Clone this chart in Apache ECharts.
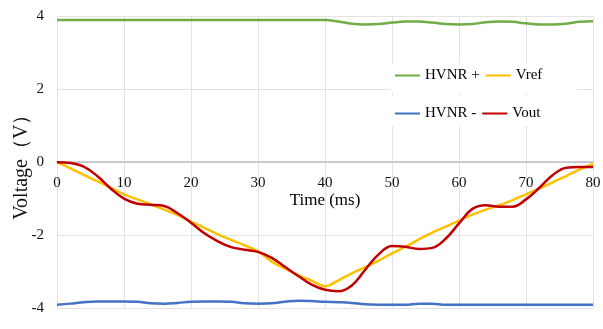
<!DOCTYPE html>
<html>
<head>
<meta charset="utf-8">
<script src="https://cdn.jsdelivr.net/npm/echarts@6/dist/echarts.min.js"></script>
<style>html,body{margin:0;padding:0;background:#fff}#c{width:603px;height:329px}</style>
</head>
<body>
<div id="c"></div>
<script>
var time = [0,2,4,6,8,10,12,14,16,18,20,22,24,26,28,30,32,34,36,38,40,42,44,46,48,50,52,54,56,58,60,62,64,66,68,70,72,74,76,78,80];
var hvnrPlus = [3.9,3.9,3.9,3.9,3.9,3.9,3.9,3.9,3.9,3.9,3.9,3.9,3.9,3.9,3.9,3.9,3.9,3.9,3.9,3.9,3.9,3.86,3.8,3.78,3.79,3.83,3.86,3.86,3.83,3.79,3.78,3.79,3.84,3.86,3.85,3.81,3.78,3.78,3.8,3.85,3.87];
var hvnrMinus = [-3.91,-3.88,-3.84,-3.82,-3.82,-3.82,-3.83,-3.87,-3.88,-3.86,-3.83,-3.82,-3.82,-3.83,-3.87,-3.88,-3.87,-3.83,-3.8,-3.81,-3.83,-3.84,-3.86,-3.9,-3.91,-3.91,-3.91,-3.88,-3.88,-3.91,-3.91,-3.91,-3.91,-3.91,-3.91,-3.91,-3.91,-3.91,-3.91,-3.91,-3.91];
var vref = [0,-0.17,-0.35,-0.52,-0.7,-0.88,-1.02,-1.16,-1.3,-1.45,-1.63,-1.8,-1.98,-2.13,-2.28,-2.45,-2.72,-2.92,-3.1,-3.25,-3.4,-3.24,-3.05,-2.88,-2.7,-2.5,-2.32,-2.12,-1.93,-1.77,-1.6,-1.44,-1.3,-1.18,-1.04,-0.88,-0.72,-0.55,-0.38,-0.2,-0.05];
var vout = [0,-0.02,-0.12,-0.38,-0.72,-1.0,-1.14,-1.17,-1.2,-1.4,-1.66,-1.95,-2.17,-2.33,-2.4,-2.46,-2.62,-2.87,-3.12,-3.36,-3.5,-3.54,-3.38,-2.95,-2.53,-2.3,-2.32,-2.38,-2.35,-2.1,-1.68,-1.28,-1.18,-1.22,-1.22,-1.02,-0.7,-0.35,-0.15,-0.13,-0.13];
var seriesNames = ['HVNR +','Vref','HVNR -','Vout'];
var xTicks = {min:0,max:80,interval:10};
var yTicks = {min:-4,max:4,interval:2};

function pairs(arr){ return time.map(function(t,i){ return [t, arr[i]]; }); }
var font = "'Liberation Serif', 'Times New Roman', serif";
var W = 603, H = 329;
var gridL = 57, gridR = 10, gridT = 16.4, gridB = 21;
var plotH = H - gridT - gridB;
// offset that places the x axis at value 0 (axis from bottom edge)
var zeroOffset = -plotH * (0 - yTicks.min) / (yTicks.max - yTicks.min);
var chart = echarts.init(document.getElementById('c'), null, {renderer:'canvas'});
function mk(name, data, color){
  return {name:name,type:'line',data:pairs(data),smooth:0.4,showSymbol:false,symbol:'none',
    lineStyle:{color:color,width:2.5},itemStyle:{color:color}};
}
var legendCommon = {orient:'horizontal',left:390,icon:'rect',itemWidth:25,itemHeight:2,itemGap:6,
  backgroundColor:'#fff',textStyle:{fontFamily:font,fontSize:15,color:'#000',width:58}};
chart.setOption({
  backgroundColor:'#fff',
  animation:false,
  grid:{left:gridL,right:gridR,top:gridT,bottom:gridB,containLabel:false,outerBoundsMode:'none'},
  legend:[
    Object.assign({},legendCommon,{top:63,padding:[5,35,10,5],data:[seriesNames[0],seriesNames[1]]}),
    Object.assign({},legendCommon,{top:96,padding:[10,35,5,5],data:[seriesNames[2],seriesNames[3]]})
  ],
  xAxis:{type:'value',min:xTicks.min,max:xTicks.max,interval:xTicks.interval,
    position:'bottom',offset:zeroOffset,
    axisLine:{onZero:false,lineStyle:{color:'#bfbfbf',width:1.5}},axisTick:{show:false},
    axisLabel:{margin:13,fontFamily:font,fontSize:15,color:'#111'},
    splitLine:{show:true,lineStyle:{color:'#e3e3e3'}},
    name:'Time (ms)',nameLocation:'middle',nameGap:30,nameMoveOverlap:false,
    nameTextStyle:{fontFamily:font,fontSize:17,color:'#000'}},
  yAxis:{type:'value',min:yTicks.min,max:yTicks.max,interval:yTicks.interval,
    axisLine:{show:false},axisTick:{show:false},
    axisLabel:{margin:13,fontFamily:font,fontSize:15,color:'#111'},
    splitLine:{show:true,lineStyle:{color:'#e3e3e3'}},
    name:'Voltage（V）',nameLocation:'middle',nameRotate:90,nameGap:25,nameMoveOverlap:false,
    nameTextStyle:{fontFamily:font,fontSize:20,color:'#111'}},
  series:[
    mk(seriesNames[0],hvnrPlus,'#70ad47'),
    mk(seriesNames[1],vref,'#ffc000'),
    mk(seriesNames[2],hvnrMinus,'#4472c4'),
    mk(seriesNames[3],vout,'#c00000')
  ]
});
</script>
</body>
</html>
